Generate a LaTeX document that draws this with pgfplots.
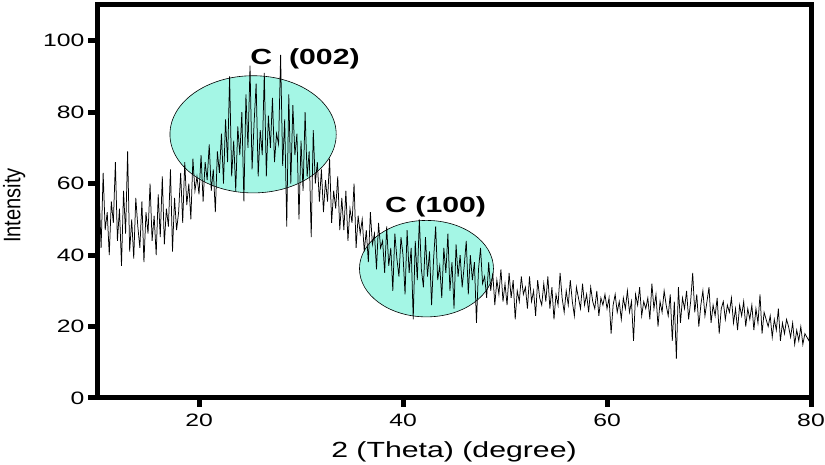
\documentclass[border=0pt]{standalone}
\usepackage{pgfplots}
\pgfplotsset{compat=1.18}
\usepackage{fontspec}
\setmainfont[FakeStretch=1.38]{Liberation Sans}
\newfontfamily\narrowfont[FakeStretch=0.84]{Liberation Sans}
\definecolor{blob}{RGB}{164,246,229}

\begin{document}
\begin{tikzpicture}
\begin{axis}[
  scale only axis,
  width=714bp, height=393bp,
  xmin=10, xmax=80, ymin=0, ymax=110,
  xtick={20,40,60,80}, ytick={0,20,40,60,80,100},
  xtick pos=bottom, ytick pos=left,
  tick align=outside,
  major tick length=9bp,
  every tick/.style={black, line width=5bp},
  axis line style={line width=5bp},
  /pgf/number format/assume math mode=true,
  tick label style={font=\fontsize{18}{20}\selectfont},
  xticklabel style={yshift=-3bp},
  xlabel={2 (Theta) (degree)},
  ylabel={Intensity},
  xlabel style={font=\fontsize{22}{24}\selectfont, at={(axis description cs:0.5,0)}, anchor=center, yshift=-54bp},
  ylabel style={font=\narrowfont\fontsize{24}{26}\selectfont, at={(axis description cs:-0.116,0.49)}, anchor=center},
  clip=true,
]
% highlighted reflections
\draw[fill=blob, draw=black, line width=0.6bp] (axis cs:25.3,73.8) ellipse [x radius=8.15, y radius=16.4];
\draw[fill=blob, draw=black, line width=0.6bp] (axis cs:42.3,36.2) ellipse [x radius=6.57, y radius=13.5];

\addplot[black, line width=0.75bp, mark=none] table[row sep=\\]{
x y\\
10.0 45\\ 10.2 58\\ 10.4 42\\ 10.6 63\\ 10.8 47\\ 11.0 52\\ 11.2 40\\ 11.4 55\\ 11.6 49\\ 11.8 66\\
12.0 44\\ 12.2 53\\ 12.4 37\\ 12.6 58\\ 12.8 46\\ 13.0 69\\ 13.2 41\\ 13.4 50\\ 13.6 39\\ 13.8 56\\
14.0 48\\ 14.2 42\\ 14.4 55\\ 14.6 38\\ 14.8 52\\ 15.0 46\\ 15.2 60\\ 15.4 44\\ 15.6 51\\ 15.8 40\\
16.0 57\\ 16.2 45\\ 16.4 62\\ 16.6 43\\ 16.8 53\\ 17.0 48\\ 17.2 64\\ 17.4 41\\ 17.6 56\\ 17.8 47\\
18.0 52\\ 18.2 63\\ 18.4 49\\ 18.6 66\\ 18.8 54\\ 19.0 60\\ 19.2 50\\ 19.4 67\\ 19.6 58\\ 19.8 62\\
20.0 57\\ 20.2 68\\ 20.4 55\\ 20.6 66\\ 20.8 61\\ 21.0 71\\ 21.2 58\\ 21.4 64\\ 21.6 52\\ 21.8 69\\
22.0 63\\ 22.2 74\\ 22.4 60\\ 22.6 78\\ 22.8 66\\ 23.0 90\\ 23.2 62\\ 23.4 72\\ 23.6 58\\ 23.8 76\\
24.0 68\\ 24.2 80\\ 24.4 55\\ 24.6 85\\ 24.8 70\\ 25.0 93\\ 25.2 64\\ 25.4 77\\ 25.6 88\\ 25.8 62\\
26.0 75\\ 26.2 68\\ 26.4 91\\ 26.6 62\\ 26.8 79\\ 27.0 70\\ 27.2 84\\ 27.4 66\\ 27.6 74\\ 27.8 71\\
28.0 96\\ 28.2 65\\ 28.4 78\\ 28.6 48\\ 28.8 85\\ 29.0 60\\ 29.2 82\\ 29.4 68\\ 29.6 74\\ 29.8 50\\
30.0 72\\ 30.2 58\\ 30.4 80\\ 30.6 62\\ 30.8 69\\ 31.0 45\\ 31.2 75\\ 31.4 60\\ 31.6 66\\ 31.8 55\\
32.0 64\\ 32.2 52\\ 32.4 61\\ 32.6 55\\ 32.8 67\\ 33.0 49\\ 33.2 58\\ 33.4 53\\ 33.6 62\\ 33.8 47\\
34.0 56\\ 34.2 47\\ 34.4 58\\ 34.6 44\\ 34.8 53\\ 35.0 49\\ 35.2 60\\ 35.4 42\\ 35.6 51\\ 35.8 46\\
36.0 50\\ 36.2 41\\ 36.4 47\\ 36.6 38\\ 36.8 52\\ 37.0 43\\ 37.2 46\\ 37.4 36\\ 37.6 49\\ 37.8 42\\
38.0 44\\ 38.2 35\\ 38.4 48\\ 38.6 37\\ 38.8 42\\ 39.0 30\\ 39.2 46\\ 39.4 39\\ 39.6 34\\ 39.8 45\\
40.0 40\\ 40.2 29\\ 40.4 47\\ 40.6 35\\ 40.8 42\\ 41.0 22\\ 41.2 44\\ 41.4 33\\ 41.6 50\\ 41.8 36\\
42.0 31\\ 42.2 45\\ 42.4 34\\ 42.6 41\\ 42.8 26\\ 43.0 39\\ 43.2 48\\ 43.4 33\\ 43.6 37\\ 43.8 28\\
44.0 42\\ 44.2 35\\ 44.4 46\\ 44.6 30\\ 44.8 38\\ 45.0 25\\ 45.2 43\\ 45.4 34\\ 45.6 40\\ 45.8 31\\
46.0 37\\ 46.2 44\\ 46.4 29\\ 46.6 40\\ 46.8 33\\ 47.0 38\\ 47.2 21\\ 47.4 36\\ 47.6 42\\ 47.8 32\\
48.0 34\\ 48.2 28\\ 48.4 38\\ 48.6 30\\ 48.8 35\\ 49.0 26\\ 49.2 33\\ 49.4 29\\ 49.6 36\\ 49.8 27\\
50.0 32\\ 50.2 26\\ 50.4 35\\ 50.6 28\\ 50.8 33\\ 51.0 22\\ 51.2 30\\ 51.4 27\\ 51.6 34\\ 51.8 29\\
52.0 31\\ 52.2 25\\ 52.4 34\\ 52.6 27\\ 52.8 30\\ 53.0 23\\ 53.2 33\\ 53.4 28\\ 53.6 26\\ 53.8 32\\
54.0 27\\ 54.2 34\\ 54.4 25\\ 54.6 31\\ 54.8 22\\ 55.0 29\\ 55.2 26\\ 55.4 35\\ 55.6 28\\ 55.8 24\\
56.0 30\\ 56.2 26\\ 56.4 33\\ 56.6 27\\ 56.8 23\\ 57.0 31\\ 57.2 28\\ 57.4 25\\ 57.6 32\\ 57.8 26\\
58.0 29\\ 58.2 24\\ 58.4 31\\ 58.6 27\\ 58.8 25\\ 59.0 30\\ 59.2 23\\ 59.4 28\\ 59.6 26\\ 59.8 29\\
60.0 25\\ 60.2 28\\ 60.4 18\\ 60.6 26\\ 60.8 29\\ 61.0 24\\ 61.2 27\\ 61.4 22\\ 61.6 28\\ 61.8 25\\
62.0 30\\ 62.2 24\\ 62.4 27\\ 62.6 16\\ 62.8 29\\ 63.0 26\\ 63.2 31\\ 63.4 23\\ 63.6 27\\ 63.8 25\\
64.0 28\\ 64.2 22\\ 64.4 32\\ 64.6 25\\ 64.8 29\\ 65.0 20\\ 65.2 27\\ 65.4 24\\ 65.6 30\\ 65.8 26\\
66.0 23\\ 66.2 29\\ 66.4 16\\ 66.6 27\\ 66.8 11\\ 67.0 31\\ 67.2 21\\ 67.4 28\\ 67.6 25\\ 67.8 30\\
68.0 22\\ 68.2 27\\ 68.4 35\\ 68.6 24\\ 68.8 29\\ 69.0 20\\ 69.2 26\\ 69.4 30\\ 69.6 23\\ 69.8 27\\
70.0 31\\ 70.2 21\\ 70.4 26\\ 70.6 23\\ 70.8 28\\ 71.0 18\\ 71.2 25\\ 71.4 27\\ 71.6 22\\ 71.8 26\\
72.0 24\\ 72.2 28\\ 72.4 21\\ 72.6 25\\ 72.8 19\\ 73.0 26\\ 73.2 23\\ 73.4 27\\ 73.6 20\\ 73.8 25\\
74.0 22\\ 74.2 26\\ 74.4 19\\ 74.6 25\\ 74.8 21\\ 75.0 29\\ 75.2 18\\ 75.4 24\\ 75.6 22\\ 75.8 20\\
76.0 23\\ 76.2 17\\ 76.4 22\\ 76.6 19\\ 76.8 25\\ 77.0 16\\ 77.2 21\\ 77.4 18\\ 77.6 22\\ 77.8 20\\
78.0 17\\ 78.2 21\\ 78.4 15\\ 78.6 19\\ 78.8 16\\ 79.0 20\\ 79.2 15\\ 79.4 18\\ 79.6 17\\ 79.8 16\\
80.0 22\\
};

\node[font=\bfseries\fontsize{22}{24}\selectfont] at (axis cs:30.4,95) {C~~(002)};
\node[font=\bfseries\fontsize{22}{24}\selectfont] at (axis cs:43.2,53.5) {C (100)};

\coordinate (BL) at (rel axis cs:-0.1359,-0.1705);
\coordinate (TR) at (rel axis cs:1.0196,1.0127);
\end{axis}
\pgfresetboundingbox
\path (BL) rectangle (TR);
\end{tikzpicture}
\end{document}
